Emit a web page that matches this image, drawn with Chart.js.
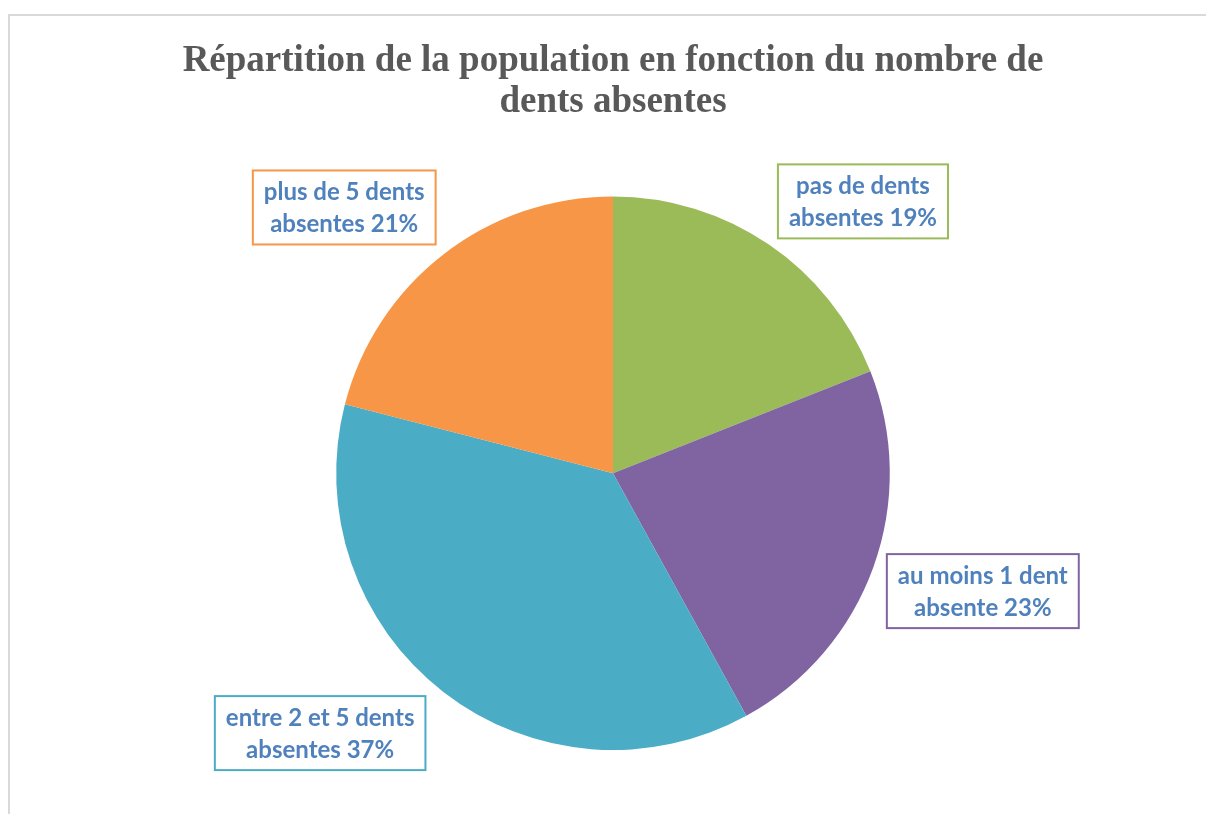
<!DOCTYPE html>
<html>
<head>
<meta charset="utf-8">
<script src="https://cdn.jsdelivr.net/npm/chart.js@4/dist/chart.umd.min.js"></script>
<style>
  html, body { margin: 0; padding: 0; background: #fff; }
  #wrap { width: 1206px; height: 814px; }
</style>
</head>
<body>
<div id="wrap"><canvas id="c" width="1206" height="814"></canvas></div>
<script>
// categories, going clockwise from 12 o'clock
var categories = ['pas de dents absentes', 'au moins 1 dent absente', 'entre 2 et 5 dents absentes', 'plus de 5 dents absentes'];
var percents = [19, 23, 37, 21];
var labelLines = [
  ['pas de dents', 'absentes 19%'],
  ['au moins 1 dent', 'absente 23%'],
  ['entre 2 et 5 dents', 'absentes 37%'],
  ['plus de 5 dents', 'absentes 21%']
];
var colors = ['#9BBB59', '#8064A2', '#4BACC6', '#F79646'];

// where each label box sits, in units of the pie radius from its centre
var labelPos = [[0.903, -0.982], [1.336, 0.426], [-1.058, 0.939], [-0.971, -0.960]];

var frame = {
  id: 'frame',
  beforeDraw: function (chart) {
    var ctx = chart.ctx;
    ctx.save();
    ctx.fillStyle = '#fff';
    ctx.fillRect(0, 0, chart.width, chart.height);
    ctx.strokeStyle = '#d9d9d9';
    ctx.lineWidth = 2;
    ctx.beginPath();
    ctx.moveTo(9, chart.height);
    ctx.lineTo(9, 15);
    ctx.lineTo(chart.width, 15);
    ctx.stroke();
    ctx.restore();
  }
};

var boxLabels = {
  id: 'boxLabels',
  afterDatasetsDraw: function (chart) {
    var ctx = chart.ctx;
    var arcs = chart.getDatasetMeta(0).data;
    ctx.save();
    ctx.font = 'bold 24px Lato, "Open Sans", sans-serif';
    ctx.textAlign = 'center';
    ctx.textBaseline = 'middle';
    arcs.forEach(function (arc, i) {
      var r = arc.outerRadius;
      var x = arc.x + labelPos[i][0] * r;
      var y = arc.y + labelPos[i][1] * r;
      var lines = labelLines[i];
      var w = 0;
      lines.forEach(function (l) { w = Math.max(w, ctx.measureText(l).width); });
      var lh = 32;
      var bw = w + 22, bh = lines.length * lh + 10;
      ctx.fillStyle = '#fff';
      ctx.fillRect(x - bw / 2, y - bh / 2, bw, bh);
      ctx.strokeStyle = colors[i];
      ctx.lineWidth = 2;
      ctx.strokeRect(x - bw / 2, y - bh / 2, bw, bh);
      ctx.fillStyle = '#4F81BD';
      lines.forEach(function (l, k) {
        ctx.fillText(l, x, y + (k - (lines.length - 1) / 2) * lh + 1);
      });
    });
    ctx.restore();
  }
};

new Chart(document.getElementById('c'), {
  type: 'pie',
  data: {
    labels: categories,
    datasets: [{
      data: percents,
      backgroundColor: colors,
      borderWidth: 0
    }]
  },
  plugins: [frame, boxLabels],
  options: {
    responsive: false,
    animation: false,
    layout: { padding: { top: 8, bottom: 64, left: 20, right: 0 } },
    plugins: {
      legend: { display: false },
      tooltip: { enabled: false },
      title: {
        display: true,
        text: ['Répartition de la population en fonction du nombre de', 'dents absentes'],
        color: '#595959',
        font: { family: '"Liberation Serif", "Times New Roman", serif', size: 37, weight: 'bold', lineHeight: 1.1 },
        padding: { top: 33, bottom: 74 }
      }
    }
  }
});
</script>
</body>
</html>
